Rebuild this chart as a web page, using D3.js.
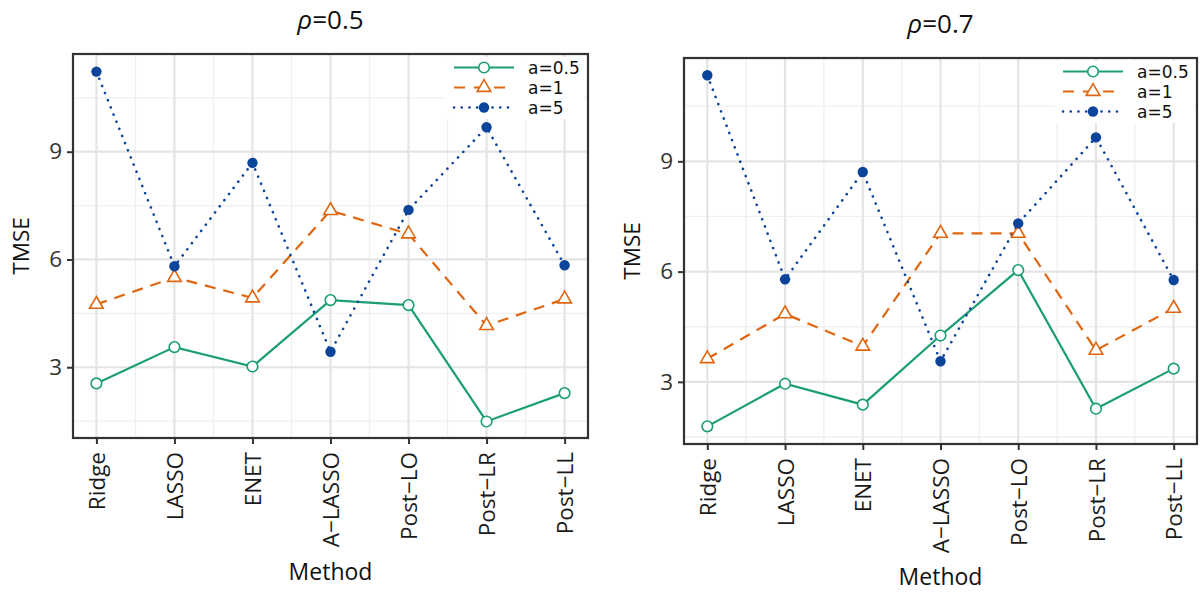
<!DOCTYPE html>
<html>
<head>
<meta charset="utf-8">
<script src="https://cdn.jsdelivr.net/npm/d3@7"></script>
<style>
  html, body { margin: 0; padding: 0; background: #fff; }
  svg { display: block; font-family: "Open Sans", "Noto Sans", sans-serif; }
</style>
</head>
<body>
<svg id="chart" width="1200" height="592"></svg>
<script>
// Methods compared on the x axis
const methods = ["Ridge", "LASSO", "ENET", "A\u2212LASSO", "Post\u2212LO", "Post\u2212LR", "Post\u2212LL"];
const seriesNames = ["a=0.5", "a=1", "a=5"];
const yTicks = [3, 6, 9];
const yMinorTicks = [1.5, 4.5, 7.5, 10.5];

// TMSE for rho = 0.5
const rho05_a05 = [2.55, 3.56, 3.02, 4.87, 4.73, 1.49, 2.28];
const rho05_a1  = [4.75, 5.50, 4.93, 7.36, 6.71, 4.16, 4.90];
const rho05_a5  = [11.23, 5.81, 8.69, 3.43, 7.38, 9.68, 5.84];

// TMSE for rho = 0.7
const rho07_a05 = [1.79, 2.95, 2.38, 4.26, 6.04, 2.27, 3.36];
const rho07_a1  = [3.63, 4.85, 3.97, 7.04, 7.04, 3.86, 5.00];
const rho07_a5  = [11.34, 5.79, 8.71, 3.56, 7.31, 9.65, 5.77];

const panelTitles = ["0.5", "0.7"];

const colors = ["#1b9e77", "#e0650f", "#0b449b"];
const dashes = [null, "11 8", "0.1 7.6"];
const widths = [2.2, 2.2, 2.6];

const svg = d3.select("#chart");

const panels = [
  { rho: panelTitles[0], data: [rho05_a05, rho05_a1, rho05_a5],
    x0: 73, x1: 588, y0: 54, y1: 438, dom: [1.03, 11.72], titleY: 29, labelX: 21, methodY: 580 },
  { rho: panelTitles[1], data: [rho07_a05, rho07_a1, rho07_a5],
    x0: 684, x1: 1197, y0: 58, y1: 444, dom: [1.31, 11.81], titleY: 33, labelX: 632, methodY: 585 }
];

function drawMarker(g, i, x, y, color) {
  if (i === 0) {
    g.append("circle").attr("cx", x).attr("cy", y).attr("r", 5.3)
      .attr("fill", "#fff").attr("stroke", color).attr("stroke-width", 1.6);
  } else if (i === 1) {
    g.append("path").attr("transform", `translate(${x},${y})`)
      .attr("d", d3.symbol(d3.symbolTriangle, 80)())
      .attr("fill", "#fff").attr("stroke", color).attr("stroke-width", 1.6);
  } else {
    g.append("circle").attr("cx", x).attr("cy", y).attr("r", 5.2)
      .attr("fill", color);
  }
}

panels.forEach(p => {
  const g = svg.append("g");
  const x = d3.scalePoint().domain(methods).range([p.x0, p.x1]).padding(0.3);
  const y = d3.scaleLinear().domain(p.dom).range([p.y1, p.y0]);
  const step = x.step();

  // grid: minor lines first, then major
  const grid = g.append("g");
  yMinorTicks.forEach(v => {
    grid.append("line").attr("x1", p.x0).attr("x2", p.x1)
      .attr("y1", y(v)).attr("y2", y(v))
      .attr("stroke", "#efefef").attr("stroke-width", 1.3);
  });
  methods.slice(0, -1).forEach(m => {
    const xv = x(m) + step / 2;
    grid.append("line").attr("x1", xv).attr("x2", xv)
      .attr("y1", p.y0).attr("y2", p.y1)
      .attr("stroke", "#efefef").attr("stroke-width", 1.3);
  });
  yTicks.forEach(v => {
    grid.append("line").attr("x1", p.x0).attr("x2", p.x1)
      .attr("y1", y(v)).attr("y2", y(v))
      .attr("stroke", "#e4e4e4").attr("stroke-width", 2.2);
  });
  methods.forEach(m => {
    grid.append("line").attr("x1", x(m)).attr("x2", x(m))
      .attr("y1", p.y0).attr("y2", p.y1)
      .attr("stroke", "#e4e4e4").attr("stroke-width", 2.2);
  });

  // series lines
  p.data.forEach((vals, i) => {
    const line = d3.line().x((d, k) => x(methods[k])).y(d => y(d));
    g.append("path").datum(vals).attr("d", line)
      .attr("fill", "none").attr("stroke", colors[i])
      .attr("stroke-width", widths[i])
      .attr("stroke-dasharray", dashes[i])
      .attr("stroke-linecap", i === 2 ? "round" : "butt");
  });
  // markers
  p.data.forEach((vals, i) => {
    vals.forEach((v, k) => drawMarker(g, i, x(methods[k]), y(v), colors[i]));
  });

  // frame
  g.append("rect").attr("x", p.x0).attr("y", p.y0)
    .attr("width", p.x1 - p.x0).attr("height", p.y1 - p.y0)
    .attr("fill", "none").attr("stroke", "#333").attr("stroke-width", 2.2);

  // axes
  const xAxis = g.append("g").attr("transform", `translate(0,${p.y1})`)
    .call(d3.axisBottom(x).tickSize(6).tickPadding(8));
  xAxis.select(".domain").remove();
  xAxis.selectAll(".tick line").attr("stroke", "#333").attr("stroke-width", 2);
  xAxis.selectAll(".tick text")
    .attr("transform", "rotate(-90)")
    .attr("x", -14).attr("y", 0).attr("dy", "0.36em")
    .attr("text-anchor", "end")
    .attr("fill", "#1a1a1a")
    .style("font-size", "22.5px").style("font-family", "'Open Sans', sans-serif");

  const yAxis = g.append("g").attr("transform", `translate(${p.x0},0)`)
    .call(d3.axisLeft(y).tickValues(yTicks).tickSize(6).tickPadding(5));
  yAxis.select(".domain").remove();
  yAxis.selectAll(".tick line").attr("stroke", "#333").attr("stroke-width", 2);
  yAxis.selectAll(".tick text").attr("fill", "#333")
    .style("font-size", "22.5px").style("font-family", "'Open Sans', sans-serif");

  // titles
  const cx = (p.x0 + p.x1) / 2;
  const t = g.append("text").attr("x", cx).attr("y", p.titleY)
    .attr("text-anchor", "middle").attr("fill", "#111")
    .style("font-size", "26px");
  t.append("tspan").attr("font-style", "italic").text("\u03C1");
  t.append("tspan").text("=" + p.rho);

  g.append("text").attr("x", cx).attr("y", p.methodY)
    .attr("text-anchor", "middle").attr("fill", "#111")
    .style("font-size", "23px").text("Method");

  g.append("text")
    .attr("transform", `translate(${p.labelX},${(p.y0 + p.y1) / 2}) rotate(-90)`)
    .attr("text-anchor", "middle").attr("dy", "0.35em").attr("fill", "#111")
    .style("font-size", "22.5px").text("TMSE");

  // legend
  const lx = p.x1 - 134, ly = p.y0 + 3;
  const leg = g.append("g");
  leg.append("rect").attr("x", lx - 8).attr("y", ly).attr("width", 138).attr("height", 62)
    .attr("fill", "#fff");
  seriesNames.forEach((name, i) => {
    const ry = ly + 10.5 + i * 20;
    leg.append("line").attr("x1", lx).attr("x2", lx + 60)
      .attr("y1", ry).attr("y2", ry)
      .attr("stroke", colors[i]).attr("stroke-width", widths[i])
      .attr("stroke-dasharray", i === 1 ? "11 9" : dashes[i])
      .attr("stroke-linecap", i === 2 ? "round" : "butt");
    drawMarker(leg, i, lx + 30, ry, colors[i]);
    leg.append("text").attr("x", lx + 74).attr("y", ry).attr("dy", "0.36em")
      .attr("fill", "#111")
      .style("font-family", "'DejaVu Sans', sans-serif")
      .style("font-size", "17px").text(name);
  });
});
</script>
</body>
</html>
